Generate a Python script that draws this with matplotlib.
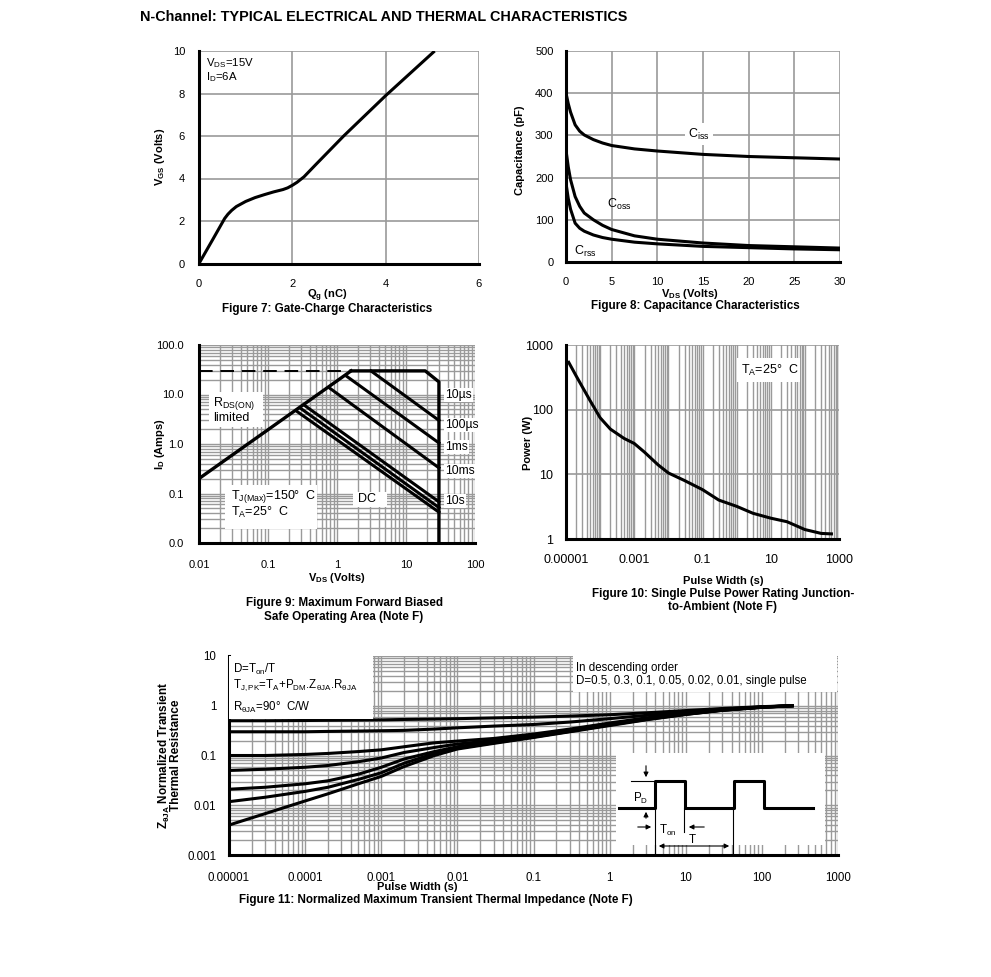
import matplotlib
matplotlib.use('Agg')
import matplotlib.pyplot as plt
from matplotlib.ticker import NullFormatter, FixedLocator, LogLocator
from matplotlib.patches import Rectangle, FancyArrowPatch
from matplotlib.lines import Line2D

plt.rcParams['font.family'] = ['Liberation Sans', 'DejaVu Sans']
plt.rcParams['mathtext.fontset'] = 'custom'
plt.rcParams['mathtext.rm'] = 'Liberation Sans'
plt.rcParams['mathtext.it'] = 'Liberation Sans:italic'
plt.rcParams['mathtext.bf'] = 'Liberation Sans:bold'

# ---------------- data ----------------
# Figure 7: gate charge
qg = [0, 0.3, 0.55, 0.62, 0.7, 0.8, 0.9, 1.0, 1.2, 1.4, 1.6, 1.8, 1.9, 2.0, 2.1, 2.25, 2.5, 3.1, 4.0, 5.05]
vgs = [0, 1.15, 2.12, 2.32, 2.5, 2.68, 2.8, 2.92, 3.1, 3.24, 3.37, 3.48, 3.56, 3.68, 3.82, 4.08, 4.65, 6.0, 7.9, 10.0]

# Figure 8: capacitance
vds = [0, 0.25, 0.5, 1, 1.5, 2, 3, 4, 5, 7.5, 10, 15, 20, 25, 30]
ciss = [400, 375, 355, 325, 310, 301, 290, 282, 276, 268, 263, 255, 250, 247, 244]
coss = [265, 225, 195, 155, 132, 116, 100, 87, 77, 62, 54, 45, 39, 36, 33]
crss = [187, 150, 125, 92, 80, 73, 64, 58, 54, 47, 43, 37, 34, 31, 29]

# Figure 9: SOA
rds_v = [0.01, 1.6]
rds_i = [0.2, 30]
lim_dash_v = [0.01, 1.5]
lim_dash_i = [30, 30]
env_v = [1.6, 19, 30, 30]
env_i = [30, 30, 18, 0.01]
soa_names = ['10\u00b5s', '100\u00b5s', '1ms', '10ms', '10s', 'DC']
soa_v = [[3.1, 30], [1.4, 30], [0.78, 30], [0.34, 30], [0.30, 30], [0.26, 30]]
soa_i = [[30, 3.0], [23, 1.05], [13.5, 0.33], [6.0, 0.068], [5.2, 0.052], [4.6, 0.042]]

# Figure 10: single pulse power
pw = [1.2e-5, 2e-5, 5e-5, 1e-4, 2e-4, 5e-4, 1e-3, 2e-3, 5e-3, 1e-2, 3e-2, 0.1, 0.3, 1, 3, 10, 30, 100, 300, 600]
pwr = [540, 330, 140, 75, 50, 36, 30, 22, 14, 10.5, 8, 5.8, 4.0, 3.2, 2.5, 2.1, 1.85, 1.4, 1.22, 1.2]

# Figure 11: transient thermal impedance
zt = [1e-5, 3e-5, 1e-4, 2e-4, 5e-4, 1e-3, 2e-3, 5e-3, 1e-2, 3e-2, 0.1, 0.3, 1, 3, 10, 30, 100, 250]
z_d05 = [.50, .50, .505, .51, .515, .52, .53, .54, .55, .57, .59, .62, .66, .72, .8, .88, .96, 1.0]
z_d03 = [.30, .30, .30, .305, .31, .315, .32, .34, .36, .39, .42, .47, .55, .64, .75, .85, .95, 1.0]
z_d01 = [.10, .10, .105, .11, .12, .13, .15, .18, .195, .22, .27, .34, .45, .57, .7, .83, .94, 1.0]
z_d005 = [.05, .053, .058, .063, .075, .089, .115, .145, .17, .2, .25, .32, .43, .55, .69, .82, .94, 1.0]
z_d002 = [.021, .023, .027, .031, .042, .058, .085, .12, .15, .19, .24, .31, .42, .54, .68, .82, .94, 1.0]
z_d001 = [.0118, .0145, .019, .023, .033, .045, .07, .11, .14, .18, .235, .305, .41, .53, .67, .81, .93, 1.0]
z_single = [.004, .0068, .0122, .017, .027, .038, .06, .1, .135, .175, .23, .30, .40, .52, .67, .81, .93, 1.0]

# ---------------- figure ----------------
W, H = 991, 977
fig = plt.figure(figsize=(W / 100, H / 100), dpi=100)
GRID = '#9a9a9a'
LAB = 8.0     # bold axis labels
CAP = 8.4     # captions


def add_ax(l, t, r, b):
    return fig.add_axes([l / W, 1 - b / H, (r - l) / W, (b - t) / H])


def style(ax, fs, xpad, ypad):
    for s in ['top', 'right']:
        ax.spines[s].set_visible(False)
    for s in ['left', 'bottom']:
        ax.spines[s].set_linewidth(2.2)
        ax.spines[s].set_color('black')
        ax.spines[s].set_zorder(3)
    ax.tick_params(which='both', length=0, labelsize=fs)
    ax.tick_params(axis='x', pad=xpad)
    ax.tick_params(axis='y', pad=ypad)


def T(x, y, s, **kw):
    kw.setdefault('fontsize', 8)
    return fig.text(x / W, 1 - y / H, s, **kw)


def fx(x):
    return x / W


def fy(y):
    return 1 - y / H


def white_box(x0, y0, x1, y1):
    fig.add_artist(Rectangle((fx(x0), fy(y1)), (x1 - x0) / W, (y1 - y0) / H,
                             transform=fig.transFigure, facecolor='white',
                             edgecolor='none', zorder=2.5))


def fline(xs, ys, lw=0.8):
    fig.add_artist(Line2D([fx(x) for x in xs], [fy(y) for y in ys],
                          transform=fig.transFigure, color='black', lw=lw, zorder=4))


def farrow(x0, y0, x1, y1, style='-|>'):
    fig.add_artist(FancyArrowPatch(
        (fx(x0), fy(y0)), (fx(x1), fy(y1)), transform=fig.transFigure,
        arrowstyle=style, mutation_scale=7, color='black', lw=0.8, zorder=4))


T(140, 17, 'N-Channel: TYPICAL ELECTRICAL AND THERMAL CHARACTERISTICS',
  fontsize=10.4, fontweight='bold', va='center', ha='left')

# ---------- Figure 7 ----------
ax7 = add_ax(199, 51, 479, 263.5)
ax7.plot(qg, vgs, color='black', lw=2.2, solid_capstyle='butt', zorder=2)
ax7.set_xlim(0, 6)
ax7.set_ylim(0, 10)
ax7.set_xticks([0, 2, 4, 6])
ax7.set_yticks([0, 2, 4, 6, 8, 10])
ax7.grid(True, color=GRID, lw=1.2)
style(ax7, 8, 11, 10)
T(206, 63, r'V$_{\mathrm{DS}}$=15V', va='center', fontsize=8.2)
T(206, 77, r'I$_{\mathrm{D}}$=6A', va='center', fontsize=8.2)
T(327, 296, r'Q$_{\mathbf{g}}$ (nC)', fontweight='bold', ha='center', va='center', fontsize=LAB)
T(327, 309, 'Figure 7: Gate-Charge Characteristics', fontweight='bold', ha='center',
  va='center', fontsize=CAP)
T(160, 157, r'V$_{\mathbf{GS}}$ (Volts)', fontweight='bold', ha='center', va='center',
  rotation=90, fontsize=LAB)

# ---------- Figure 8 ----------
ax8 = add_ax(566, 51, 840, 262)
for c in (ciss, coss, crss):
    ax8.plot(vds, c, color='black', lw=2.2, zorder=2)
ax8.set_xlim(0, 30)
ax8.set_ylim(0, 500)
ax8.set_xticks([0, 5, 10, 15, 20, 25, 30])
ax8.set_yticks([0, 100, 200, 300, 400, 500])
ax8.grid(True, color=GRID, lw=1.2)
style(ax8, 8, 11, 9)
T(688, 134, r'C$_{\mathrm{iss}}$', va='center', ha='left', fontsize=9,
  bbox=dict(facecolor='white', edgecolor='none', pad=2.5))
T(607, 204, r'C$_{\mathrm{oss}}$', va='center', ha='left', fontsize=9)
T(574, 251, r'C$_{\mathrm{rss}}$', va='center', ha='left', fontsize=9)
T(690, 294, r'V$_{\mathbf{DS}}$ (Volts)', fontweight='bold', ha='center', va='center', fontsize=LAB)
T(695, 306, 'Figure 8: Capacitance Characteristics', fontweight='bold', ha='center',
  va='center', fontsize=CAP)
T(520, 150, 'Capacitance (pF)', fontweight='bold', ha='center', va='center', rotation=90,
  fontsize=LAB)

# ---------- Figure 9 ----------
ax9 = add_ax(199, 345, 475, 543)
ax9.set_xscale('log')
ax9.set_yscale('log')
ax9.set_xlim(0.01, 100)
ax9.set_ylim(0.01, 100)
ax9.plot(rds_v, rds_i, color='black', lw=2.4, zorder=2)
ax9.plot(lim_dash_v, lim_dash_i, color='black', lw=1.4, ls=(0, (7, 4)), zorder=2)
ax9.plot(env_v, env_i, color='black', lw=2.4, zorder=2, clip_on=False)
for v, i in zip(soa_v, soa_i):
    ax9.plot(v, i, color='black', lw=2.2, zorder=2)
ax9.set_xticks([0.01, 0.1, 1, 10, 100])
ax9.set_xticklabels(['0.01', '0.1', '1', '10', '100'])
ax9.set_yticks([0.01, 0.1, 1, 10, 100])
ax9.set_yticklabels(['0.0', '0.1', '1.0', '10.0', '100.0'])
ax9.xaxis.set_minor_locator(LogLocator(base=10, subs=range(2, 10), numticks=20))
ax9.yaxis.set_minor_locator(LogLocator(base=10, subs=range(2, 10), numticks=20))
ax9.xaxis.set_minor_formatter(NullFormatter())
ax9.yaxis.set_minor_formatter(NullFormatter())
ax9.grid(True, which='both', color=GRID, lw=1.0)
style(ax9, 8, 12, 11)
white_box(209, 392, 263, 427)
T(213, 403.5, r'R$_{\mathrm{DS(ON)}}$', va='center', zorder=3, fontsize=9)
T(213, 418, 'limited', va='center', zorder=3, fontsize=9)
white_box(225, 485, 317, 529)
T(231, 497, r'T$_{\mathrm{J(Max)}}$=150°  C', va='center', zorder=3, fontsize=9)
T(231, 512, r'T$_{\mathrm{A}}$=25°  C', va='center', zorder=3, fontsize=9)
white_box(353, 492, 387, 507)
T(358, 499, 'DC', va='center', zorder=3, fontsize=9)
lab_y = [395, 425, 447, 471, 501]
for name, y in zip(soa_names[:5], lab_y):
    T(445, y, name, va='center', ha='left', zorder=3, fontsize=8.7,
      bbox=dict(facecolor='white', edgecolor='none', pad=1.0))
T(337, 578, r'V$_{\mathbf{DS}}$ (Volts)', fontweight='bold', ha='center', va='center', fontsize=LAB)
T(344, 603, 'Figure 9: Maximum Forward Biased', fontweight='bold', ha='center',
  va='center', fontsize=CAP)
T(344, 617, 'Safe Operating Area (Note F)', fontweight='bold', ha='center', va='center',
  fontsize=CAP)
T(160, 444, r'I$_{\mathbf{D}}$ (Amps)', fontweight='bold', ha='center', va='center',
  rotation=90, fontsize=LAB)

# ---------- Figure 10 ----------
ax10 = add_ax(566, 345, 839, 539)
ax10.set_xscale('log')
ax10.set_yscale('log')
ax10.set_xlim(1e-5, 1000)
ax10.set_ylim(1, 1000)
ax10.plot(pw, pwr, color='black', lw=2.2, zorder=2)
xt = [10.0 ** k for k in range(-5, 4)]
ax10.set_xticks(xt)
ax10.set_xticklabels(['0.00001', '', '0.001', '', '0.1', '', '10', '', '1000'])
ax10.set_yticks([1, 10, 100, 1000])
ax10.set_yticklabels(['1', '10', '100', '1000'])
ax10.xaxis.set_minor_locator(LogLocator(base=10, subs=range(2, 10), numticks=30))
ax10.xaxis.set_minor_formatter(NullFormatter())
ax10.yaxis.set_minor_locator(FixedLocator([]))
ax10.grid(True, axis='x', which='both', color=GRID, lw=1.0)
ax10.grid(True, axis='y', which='major', color=GRID, lw=1.2)
style(ax10, 9, 10.5, 9)
white_box(737, 358, 800, 382)
T(741, 370, r'T$_{\mathrm{A}}$=25°  C', va='center', zorder=3, fontsize=9)
T(723, 581, 'Pulse Width (s)', fontweight='bold', ha='center', va='center', fontsize=LAB)
T(723, 594, 'Figure 10: Single Pulse Power Rating Junction-', fontweight='bold',
  ha='center', va='center', fontsize=CAP)
T(723, 607, 'to-Ambient (Note F)', fontweight='bold', ha='center', va='center', fontsize=CAP)
T(528, 443, 'Power (W)', fontweight='bold', ha='center', va='center', rotation=90, fontsize=LAB)

# ---------- Figure 11 ----------
ax11 = add_ax(229, 656, 838, 855)
ax11.set_xscale('log')
ax11.set_yscale('log')
ax11.set_xlim(1e-5, 1000)
ax11.set_ylim(0.001, 10)
for z in (z_d05, z_d03, z_d01, z_d005, z_d002, z_d001, z_single):
    ax11.plot(zt, z, color='black', lw=2.2, zorder=2)
ax11.set_xticks([10.0 ** k for k in range(-5, 4)])
ax11.set_xticklabels(['0.00001', '0.0001', '0.001', '0.01', '0.1', '1', '10', '100', '1000'])
ax11.set_yticks([0.001, 0.01, 0.1, 1, 10])
ax11.set_yticklabels(['0.001', '0.01', '0.1', '1', '10'])
ax11.xaxis.set_minor_locator(LogLocator(base=10, subs=range(2, 10), numticks=30))
ax11.yaxis.set_minor_locator(LogLocator(base=10, subs=range(2, 10), numticks=30))
ax11.xaxis.set_minor_formatter(NullFormatter())
ax11.yaxis.set_minor_formatter(NullFormatter())
ax11.grid(True, which='both', color=GRID, lw=1.0)
style(ax11, 8.3, 12, 9)
white_box(229, 656, 373, 719)
T(233, 669, r'D=T$_{\mathrm{on}}$/T', va='center', zorder=3, fontsize=8.3)
T(233, 685, r'T$_{\mathrm{J,PK}}$=T$_{\mathrm{A}}$+P$_{\mathrm{DM}}$.Z$_{\mathrm{θJA}}$.R$_{\mathrm{θJA}}$',
  va='center', zorder=3, fontsize=8.3)
T(233, 707, r'R$_{\mathrm{θJA}}$=90°  C/W', va='center', zorder=3, fontsize=8.3)
white_box(573, 656, 837, 692)
T(576, 668, 'In descending order', va='center', zorder=3, fontsize=8.3)
T(576, 681, 'D=0.5, 0.3, 0.1, 0.05, 0.02, 0.01, single pulse', va='center', zorder=3,
  fontsize=8.3)

# pulse inset
white_box(616, 753, 825, 845)
fline([619, 655, 655, 685, 685, 734, 734, 764, 764, 813],
      [808, 808, 781, 781, 808, 808, 781, 781, 808, 808], lw=2.2)
fline([655, 655], [808, 855])
fline([684, 684], [808, 832])
fline([733, 733], [808, 855])
fline([631, 655], [781, 781])
farrow(646, 763, 646, 780)
farrow(646, 821, 646, 809)
farrow(635, 827, 654, 827)
farrow(707, 827, 686, 827)
farrow(656, 846, 732, 846, style='<|-|>')
T(641, 798, r'P$_{\mathrm{D}}$', ha='center', va='center', zorder=5, fontsize=8.3)
T(668, 830, r'T$_{\mathrm{on}}$', ha='center', va='center', zorder=5, fontsize=8.3)
T(692, 840, 'T', ha='center', va='center', zorder=5, fontsize=8.3)

T(417, 887, 'Pulse Width (s)', fontweight='bold', ha='center', va='center', fontsize=LAB)
T(436, 900, 'Figure 11: Normalized Maximum Transient Thermal Impedance (Note F)',
  fontweight='bold', ha='center', va='center', fontsize=CAP)
T(164, 755, r'Z$_{\mathbf{θJA}}$ Normalized Transient', fontweight='bold', ha='center',
  va='center', rotation=90, fontsize=LAB + 0.5)
T(176, 755, 'Thermal Resistance', fontweight='bold', ha='center', va='center', rotation=90,
  fontsize=LAB + 0.5)

fig.savefig('out.png', dpi=100, facecolor='white')
